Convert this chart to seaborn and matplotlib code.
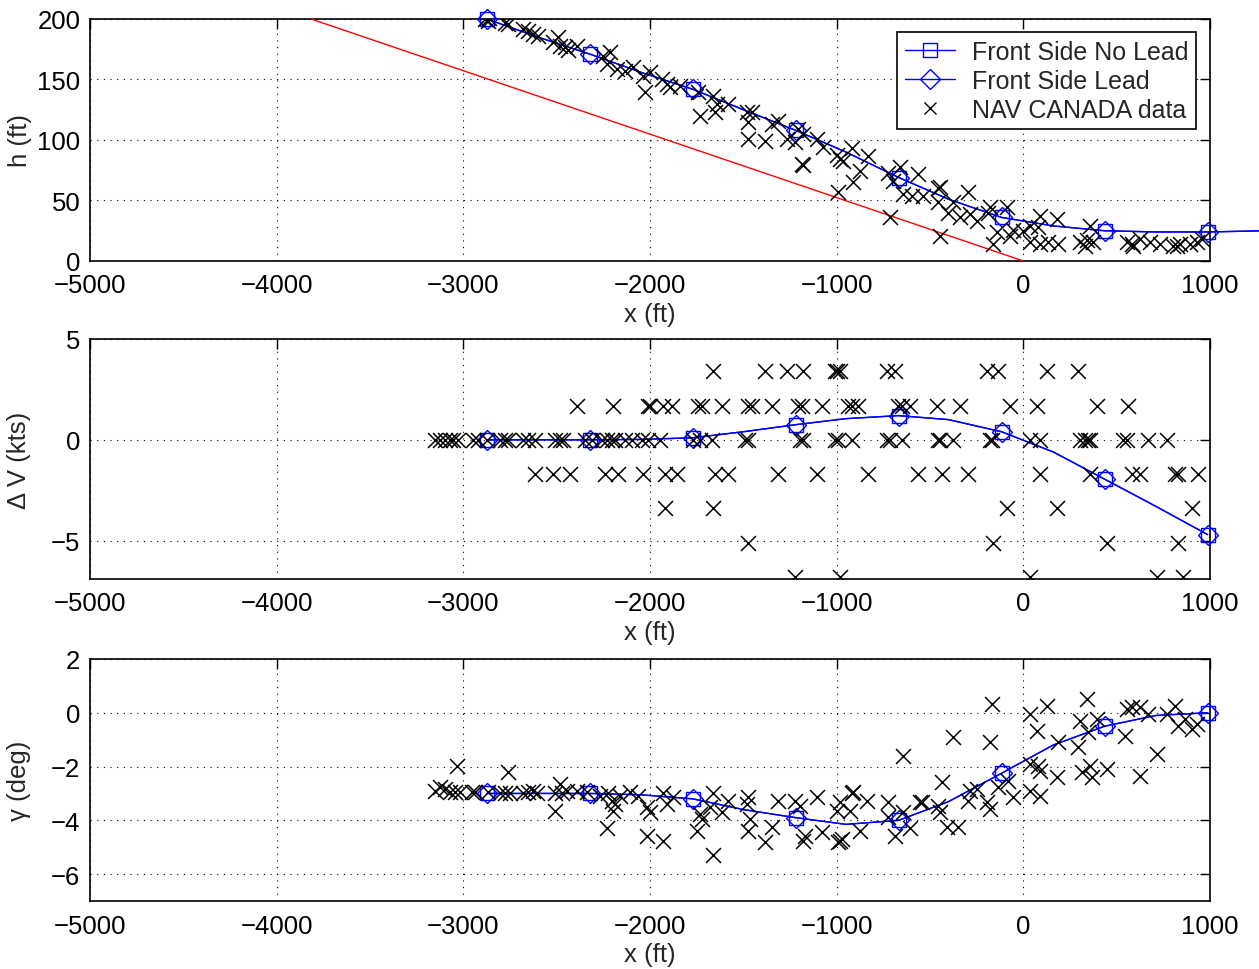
import numpy as np
import pandas as pd
import matplotlib
matplotlib.use('Agg')
import matplotlib.pyplot as plt
import seaborn as sns
from matplotlib.lines import Line2D

# --- model curves (front side, sampled along the approach; markers on every other sample) ---
x_model = [-2875, -2600, -2323, -2050, -1772, -1500, -1220, -950, -668, -400, -117, 160, 435, 710, 987]
x_model_h = x_model + [1300]
h_model = [200, 185, 171, 156, 142, 125, 108, 90, 69, 51, 36, 29, 25, 24, 24, 25]
dv_model = [0, 0, 0, 0.02, 0.1, 0.4, 0.75, 1.05, 1.2, 1.0, 0.4, -0.6, -1.95, -3.3, -4.7]
gam_model = [-3.0, -3.0, -3.0, -3.05, -3.2, -3.6, -3.9, -4.15, -4.0, -3.3, -2.25, -1.2, -0.5, -0.1, 0.0]

# 3 deg glide slope reference
glide_deg = 3.0
glide_x = [-3820, 0]

# --- NAV CANADA data: height ---
nav_h_x = [-2884, -2870, -2860, -2777, -2761, -2680, -2654, -2627, -2600, -2520, -2493, -2482,
           -2455, -2439, -2391, -2252, -2214, -2230, -2177, -2134, -2091, -2038, -2000, -2027,
           -1936, -1909, -1893, -1839, -1743, -1732, -1663, -1652, -1641, -1582, -1480, -1454,
           -1475, -1475, -1384, -1347, -1314, -1266, -1223, -1207, -1180, -1186, -1180, -1105,
           -1073, -998, -982, -966, -918, -875, -913, -832, -993, -725, -661, -698, -645, -596,
           -564, -714, -538, -457, -446, -457, -404, -377, -339, -297, -286, -248, -446, -179,
           -189, -88, -141, -163, -71, -55, 36, 89, 79, 180, 36, 89, 132, 186, -2, 304, 341, 357,
           373, 330, 555, 582, 625, 587, 679, 732, 802, 839, 823, 893, 930, 957]
nav_h = [200, 198, 201, 197, 196, 192, 190, 188, 186, 181, 185, 178,
         177, 174, 178, 169, 173, 163, 159, 157, 160, 153, 156, 140,
         150, 146, 144, 145, 140, 120, 136, 123, 130, 130, 123, 123,
         115, 101, 99, 113, 116, 101, 98, 109, 105, 80, 79, 101,
         94, 88, 84, 83, 93, 74, 65, 87, 57, 73, 78, 66, 55, 54,
         72, 36, 54, 60, 61, 49, 40, 49, 36, 57, 39, 33, 21, 45,
         40, 45, 24, 14, 21, 26, 29, 37, 28, 35, 16, 14, 16, 14, 25, 16, 17, 29,
         16, 12, 16, 14, 18, 12, 16, 14, 12, 14, 12, 14, 16, 18]

# --- NAV CANADA data: speed deviation (quantised levels) ---
dv_x_0 = [-3152, -3125, -3098, -3071, -3055, -3029, -2948, -2921, -2873, -2803, -2777, -2761,
          -2680, -2654, -2616, -2509, -2482, -2466, -2348, -2311, -2257, -2230, -2204, -2187,
          -2134, -2096, -2043, -2011, -1946, -1770, -1732, -1668, -1491, -1475, -1196, -1180,
          -1009, -993, -918, -730, -714, -650, -457, -446, -377, -179, -168, 36, 89, 304, 330,
          346, 357, 534, 555, 668, 770]
dv_x_p17 = [-2391, -2198, -2011, -2000, -1930, -1882, -1743, -1721, -1614, -1475, -1454, -1346,
            -1207, -1186, -1079, -939, -918, -886, -671, -650, -607, -463, -339, -71, 73, 395, 561]
dv_x_p34 = [-1662, -1384, -1266, -1180, -1009, -998, -982, -730, -688, -195, -136, 127, 293]
dv_x_m17 = [-2616, -2520, -2429, -2241, -2171, -2037, -1920, -1855, -1652, -1582, -1314, -1105,
            -832, -564, -436, -296, 89, 357, 582, 625, 812, 828, 936]
dv_x_m34 = [-1920, -1662, -88, 180, 903]
dv_x_m51 = [-1475, -163, 448, 828]
dv_x_m68 = [-1223, -982, 36, 716, 855]
dv_levels = [0.0, 1.7, 3.4, -1.7, -3.4, -5.1, -6.8]

# --- NAV CANADA data: flight path angle ---
nav_g_x = [-3152, -3125, -3098, -3071, -3045, -3018, -3034, -2954, -2938, -2870, -2803, -2777,
           -2761, -2750, -2680, -2654, -2627, -2605, -2509, -2509, -2482, -2471, -2445, -2391,
           -2338, -2268, -2230, -2225, -2204, -2187, -2198, -2161, -2107, -2065, -2016, -2000,
           -2016, -1930, -1930, -1909, -1877, -1748, -1732, -1721, -1662, -1662, -1679, -1614,
           -1582, -1475, -1480, -1464, -1475, -1384, -1347, -1314, -1223, -1196, -1170, -1180,
           -1105, -1079, -998, -982, -971, -993, -929, -913, -875, -837, -725, -725, -688, -645,
           -607, -554, -543, -457, -446, -436, -409, -645, -918, -982, -350, -377, -296, -286,
           -248, -179, -168, -195, -179, -136, -82, -55, 36, 73, 127, 36, 79, 89, 36, 89, 180,
           186, 293, 304, 341, 346, 357, 368, 314, 395, 448, 545, 555, 582, 625, 668, 625, 716,
           770, 812, 828, 866, 903, 930]
nav_g = [-2.9, -2.75, -2.83, -2.94, -2.94, -2.94, -1.97, -2.94, -2.94, -2.94, -3.0, -3.0,
         -2.2, -3.0, -3.0, -2.94, -2.9, -3.0, -3.0, -3.64, -2.64, -3.0, -2.9, -2.9,
         -2.94, -3.1, -4.3, -3.0, -3.27, -3.38, -3.64, -3.1, -2.94, -3.1, -3.5, -3.68,
         -4.6, -4.76, -3.0, -3.38, -3.12, -4.4, -3.76, -3.94, -3.0, -5.3, -3.5, -3.68,
         -3.27, -3.12, -3.38, -3.94, -4.4, -4.8, -4.24, -3.27, -3.27, -3.46, -4.57, -4.76,
         -3.12, -4.42, -3.64, -3.31, -4.68, -4.8, -3.64, -2.94, -4.4, -3.27, -3.31, -3.87, -4.6, -3.68,
         -4.3, -3.31, -3.31, -3.46, -3.68, -2.56, -4.24, -1.6, -3.0, -4.76, -4.24, -0.9, -3.27, -2.9,
         -2.83, -1.08, 0.33, -3.31, -3.57, -2.75, -2.53, -3.12, -0.04, -0.67, 0.26, -1.9, -1.97, -2.16, -2.9, -3.08, -2.38,
         -1.08, -1.26, -0.3, 0.52, -0.7, -1.97, -2.38, -2.2, -0.22, -2.08, -0.86, 0.15, 0.22, 0.22, -0.04, -2.34, -1.52,
         -0.04, 0.26, -0.48, -0.22, -0.6, -0.41]

x_ticks = [-5000, -4000, -3000, -2000, -1000, 0, 1000]

# build tables
dv_x = dv_x_0 + dv_x_p17 + dv_x_p34 + dv_x_m17 + dv_x_m34 + dv_x_m51 + dv_x_m68
dv_y = []
for lev, xs in zip(dv_levels, [dv_x_0, dv_x_p17, dv_x_p34, dv_x_m17, dv_x_m34, dv_x_m51, dv_x_m68]):
    dv_y += [lev] * len(xs)
nav_h_df = pd.DataFrame({'x': nav_h_x, 'y': nav_h})
nav_dv_df = pd.DataFrame({'x': dv_x, 'y': dv_y})
nav_g_df = pd.DataFrame({'x': nav_g_x, 'y': nav_g})
glide_h = [-x * np.tan(np.radians(glide_deg)) for x in glide_x]

sns.set_style('white')
plt.rcParams['font.family'] = ['Liberation Sans', 'DejaVu Sans']
plt.rcParams['font.size'] = 18.5
plt.rcParams['axes.unicode_minus'] = True

fig = plt.figure(figsize=(12.59, 9.70), dpi=100)
ax1 = fig.add_axes([0.0715, 0.7299, 0.8896, 0.2495])
ax2 = fig.add_axes([0.0715, 0.4021, 0.8896, 0.2474])
ax3 = fig.add_axes([0.0715, 0.0701, 0.8896, 0.2495])

blue = (0, 0, 1)
mk = dict(markevery=2, mfc='none', mec=blue, mew=1.0)

def draw_model(ax, xs, ys):
    sns.lineplot(x=xs, y=ys, ax=ax, color=blue, lw=1.0, sort=False, estimator=None,
                 marker='s', markersize=10, clip_on=False, zorder=4, **mk)
    sns.lineplot(x=xs, y=ys, ax=ax, color=blue, lw=1.0, sort=False, estimator=None,
                 marker='D', markersize=10, clip_on=False, zorder=4, **mk)

# top: height
sns.lineplot(x=glide_x, y=glide_h, ax=ax1, color='red', lw=1.0, zorder=3)
sns.scatterplot(data=nav_h_df, x='x', y='y', ax=ax1, marker='x', color='black', s=115,
                linewidth=1.1, zorder=5)
draw_model(ax1, x_model_h, h_model)
ax1.set_ylim(0, 200)
ax1.set_yticks([0, 50, 100, 150, 200])
ax1.set_ylabel('h (ft)', labelpad=4)

# middle: speed deviation
sns.scatterplot(data=nav_dv_df, x='x', y='y', ax=ax2, marker='x', color='black', s=115,
                linewidth=1.1, zorder=5)
draw_model(ax2, x_model, dv_model)
ax2.set_ylim(-6.9, 5)
ax2.set_yticks([-5, 0, 5])
ax2.set_ylabel('\u0394 V (kts)', labelpad=14)

# bottom: flight path angle
sns.scatterplot(data=nav_g_df, x='x', y='y', ax=ax3, marker='x', color='black', s=115,
                linewidth=1.1, zorder=5)
draw_model(ax3, x_model, gam_model)
ax3.set_ylim(-7, 2)
ax3.set_yticks([-6, -4, -2, 0, 2])
ax3.set_ylabel('\u03b3 (deg)', labelpad=14)

for ax in (ax1, ax2, ax3):
    ax.set_xlim(-5000, 1000)
    ax.set_xticks(x_ticks)
    ax.set_xlabel('x (ft)', labelpad=3)
    ax.grid(True, color='black', linestyle=(0, (1, 5)), linewidth=0.8)
    ax.tick_params(direction='in', top=True, right=True, length=7, width=1,
                   labelsize=18.5, colors='black')
    ax.tick_params(axis='x', pad=9)
    ax.tick_params(axis='y', pad=7)
    for sp in ax.spines.values():
        sp.set_color('black')
        sp.set_linewidth(1.2)
    if ax.get_legend() is not None:
        ax.get_legend().remove()

handles = [Line2D([], [], color=blue, lw=1.0, marker='s', markersize=10, mfc='none', mec=blue),
           Line2D([], [], color=blue, lw=1.0, marker='D', markersize=10, mfc='none', mec=blue),
           Line2D([], [], color='black', ls='none', marker='x', markersize=8, mew=1.0)]
labels = ['Front Side No Lead', 'Front Side Lead', 'NAV CANADA data']
leg = ax1.legend(handles, labels, loc='upper right', bbox_to_anchor=(0.9875, 0.946),
                 fancybox=False, framealpha=1, edgecolor='black', fontsize=18,
                 handlelength=2.0, handletextpad=0.7, borderpad=0.3, labelspacing=0.2,
                 borderaxespad=0)
leg.get_frame().set_linewidth(1.2)
leg.set_zorder(10)

fig.savefig('out.png', dpi=100)
